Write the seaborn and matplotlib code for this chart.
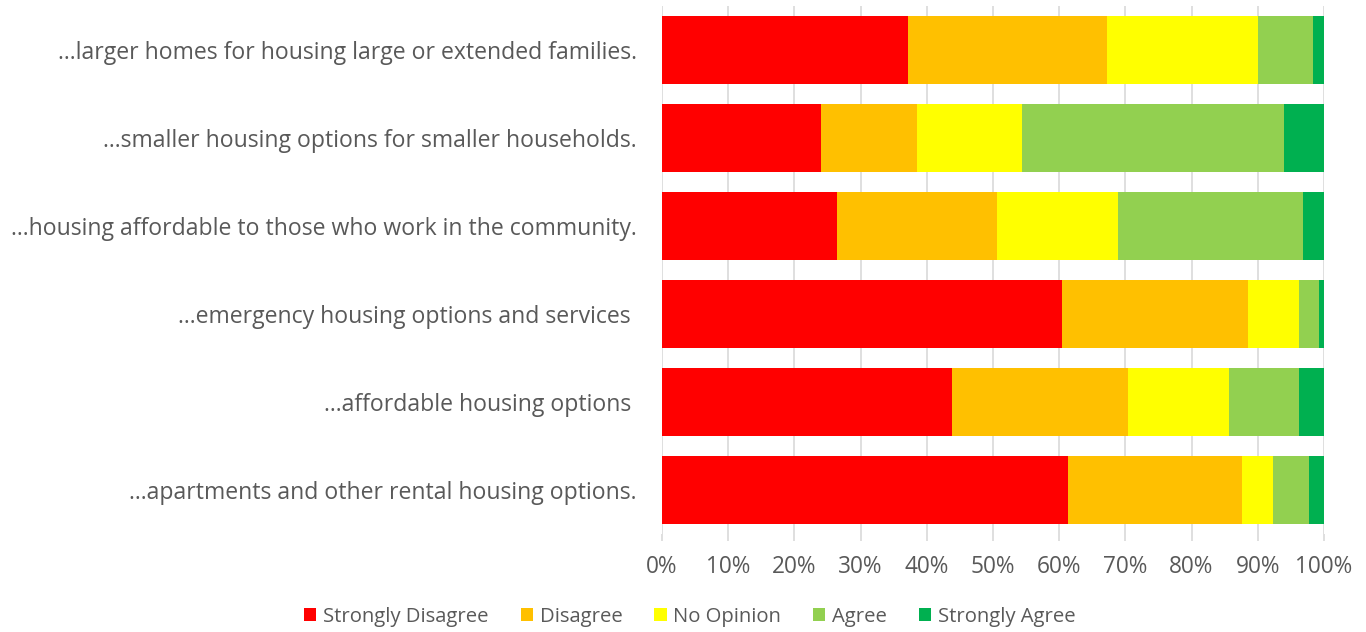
import matplotlib
matplotlib.use("Agg")
import matplotlib.pyplot as plt
from matplotlib.patches import Patch
import seaborn as sns
import pandas as pd
import numpy as np

# Survey statements (top to bottom)
statements = [
    "...larger homes for housing large or extended families.",
    "...smaller housing options for smaller households.",
    "...housing affordable to those who work in the community.",
    "...emergency housing options and services ",
    "...affordable housing options ",
    "...apartments and other rental housing options.",
]

responses = ["Strongly Disagree", "Disagree", "No Opinion", "Agree", "Strongly Agree"]

# Share of responses (%) per statement
strongly_disagree = [37.1, 24.1, 26.4, 60.5, 43.8, 61.4]
disagree = [30.2, 14.4, 24.2, 28.1, 26.6, 26.2]
no_opinion = [22.7, 15.9, 18.3, 7.6, 15.2, 4.7]
agree = [8.4, 39.6, 28.0, 3.1, 10.6, 5.4]
strongly_agree = [1.6, 6.0, 3.1, 0.7, 3.8, 2.3]

colors = ["#FF0000", "#FFC000", "#FFFF00", "#92D050", "#00B050"]

sns.set_theme(style="white")
plt.rcParams["font.family"] = ["Open Sans", "DejaVu Sans"]
text_color = "#595959"

df = pd.DataFrame({
    "statement": statements,
    "Strongly Disagree": strongly_disagree,
    "Disagree": disagree,
    "No Opinion": no_opinion,
    "Agree": agree,
    "Strongly Agree": strongly_agree,
})
totals = df[responses].sum(axis=1)
shares = df[responses].div(totals, axis=0)
cum = shares.cumsum(axis=1)
cum["statement"] = statements

fig = plt.figure(figsize=(13.66, 6.32), dpi=100)
ax = fig.add_axes([0.4846, 0.155, 0.4846, 0.8354])

# Draw cumulative layers from the right-most segment to the left-most
for resp, col in reversed(list(zip(responses, colors))):
    sns.barplot(data=cum, x=resp, y="statement", order=statements,
                color=col, orient="h", width=0.77, saturation=1,
                linewidth=0, ax=ax, zorder=2)

ax.set_xlim(0, 1)
ax.set_xticks(np.linspace(0, 1, 11))
ax.set_xticklabels([f"{int(round(v*100))}%" for v in np.linspace(0, 1, 11)])
ax.grid(axis="x", color="#D9D9D9", linewidth=1.2, zorder=0)
ax.grid(axis="y", visible=False)
for s in ax.spines.values():
    s.set_visible(False)
ax.set_xlabel("")
ax.set_ylabel("")
ax.tick_params(axis="x", colors=text_color, labelsize=16.3, length=5,
               width=1.2, direction="out", pad=10, color="#D9D9D9", bottom=True)
ax.tick_params(axis="y", colors=text_color, labelsize=16.6, length=0, pad=18)
for lbl in ax.get_xticklabels() + ax.get_yticklabels():
    lbl.set_color(text_color)

handles = [Patch(facecolor=c, edgecolor="none") for c in colors]
leg = fig.legend(handles, responses, loc="center", bbox_to_anchor=(0.505, 0.024),
                 ncol=5, frameon=False, fontsize=14.6, handlelength=0.6,
                 handleheight=0.6, handletextpad=0.33, columnspacing=1.58)
for t in leg.get_texts():
    t.set_color(text_color)

fig.savefig("out.png", dpi=100)
